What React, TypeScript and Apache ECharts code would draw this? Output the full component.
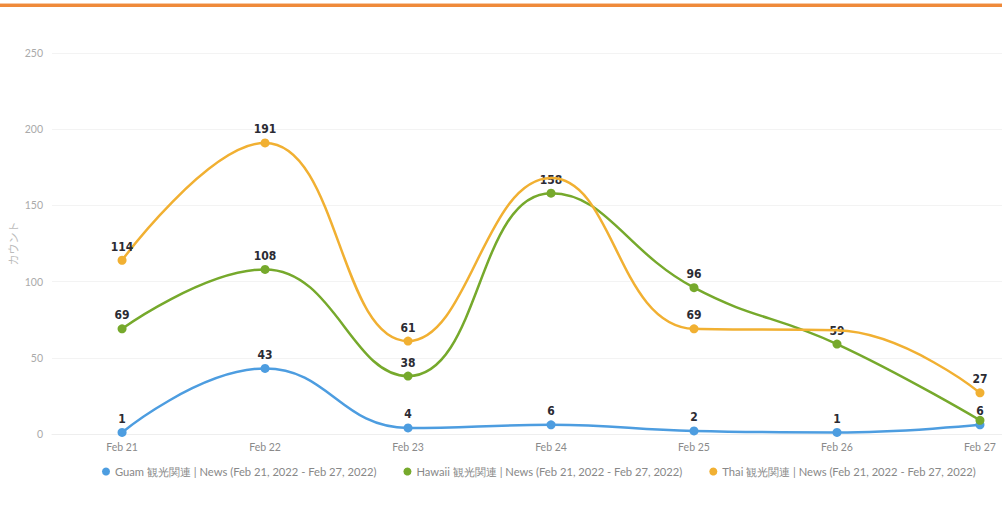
import React, { useEffect, useRef } from "react";
import * as echarts from "echarts";

const days = ["Feb 21", "Feb 22", "Feb 23", "Feb 24", "Feb 25", "Feb 26", "Feb 27"];
const guam = [1, 43, 4, 6, 2, 1, 6];
const hawaii = [69, 108, 38, 158, 96, 59, 9];
const thai = [114, 191, 61, 168, 69, 68, 27];
const hideHawaii = [6];
const hideThai = [3, 5];
const seriesNames = [
  "Guam 観光関連 | News (Feb 21, 2022 - Feb 27, 2022)",
  "Hawaii 観光関連 | News (Feb 21, 2022 - Feb 27, 2022)",
  "Thai 観光関連 | News (Feb 21, 2022 - Feb 27, 2022)",
];
const colors = ["#4d9de0", "#76a92c", "#f1b032"];

export default function App() {
  const ref = useRef<HTMLDivElement>(null);
  useEffect(() => {
    const chart = echarts.init(ref.current!, null, { renderer: "svg" });
    const mk = (vals: number[], i: number, hide: number[]) => ({
      name: seriesNames[i],
      type: "line",
      smooth: 0.45,
      symbol: "circle",
      symbolSize: 9,
      z: 2 + i,
      itemStyle: { color: colors[i] },
      lineStyle: { width: 2.5, color: colors[i] },
      label: {
        show: true,
        position: "top",
        distance: 3,
        fontFamily: "DejaVu Sans Condensed, Roboto, sans-serif",
        fontWeight: "bold",
        fontSize: 12,
        color: "#2b2b33",
      },
      data: vals.map((v, k) => ({
        value: [k, v],
        label: hide.includes(k) ? { show: false } : undefined,
        symbolSize: hide.includes(k) && i === 2 ? 0 : undefined,
      })),
    });
    chart.setOption({
      animation: false,
      backgroundColor: "#fff",
      textStyle: { fontFamily: "Lato, sans-serif" },
      graphic: [
        { type: "rect", shape: { x: 0, y: 4, width: 1002, height: 3 }, style: { fill: "#ef8a3a" } },
        { type: "rect", shape: { x: 0, y: 3, width: 1002, height: 1 }, style: { fill: "#f7c9a5" } },
      ],
      grid: { left: 52, right: 0, top: 53, bottom: 83, outerBoundsMode: "none", containLabel: false },
      legend: {
        bottom: 35,
        left: 97,
        icon: "circle",
        itemWidth: 8,
        itemHeight: 8,
        itemGap: 27,
        textStyle: { color: "#888", fontSize: 11.2, fontFamily: "Lato, sans-serif" },
        data: seriesNames,
      },
      xAxis: {
        type: "value",
        min: -0.49,
        max: 6.154,
        splitLine: { show: false },
        axisLine: { show: true, lineStyle: { color: "#eee" } },
        axisTick: { show: false },
        axisLabel: {
          customValues: [0, 1, 2, 3, 4, 5, 6],
          formatter: (v: number) => days[Math.round(v)] ?? "",
          color: "#8a8a8a",
          fontSize: 10.5,
          margin: 7,
        },
      },
      yAxis: {
        type: "value",
        min: 0,
        max: 250,
        interval: 50,
        name: "カウント",
        nameLocation: "middle",
        nameRotate: 90,
        nameGap: 34,
        nameMoveOverlap: false,
        nameTextStyle: { color: "#bbb", fontSize: 11, fontFamily: "Noto Sans CJK JP, sans-serif" },
        axisLabel: { color: "#aaa", fontSize: 10.5, margin: 9 },
        axisLine: { show: false },
        axisTick: { show: false },
        splitLine: { lineStyle: { color: "#f3f3f3" } },
      },
      series: [mk(guam, 0, []), mk(hawaii, 1, hideHawaii), mk(thai, 2, hideThai)],
    });
    return () => chart.dispose();
  }, []);
  return (
    <div
      ref={ref}
      style={{ position: "absolute", left: 0, top: 0, width: 1002, height: 517 }}
    />
  );
}
